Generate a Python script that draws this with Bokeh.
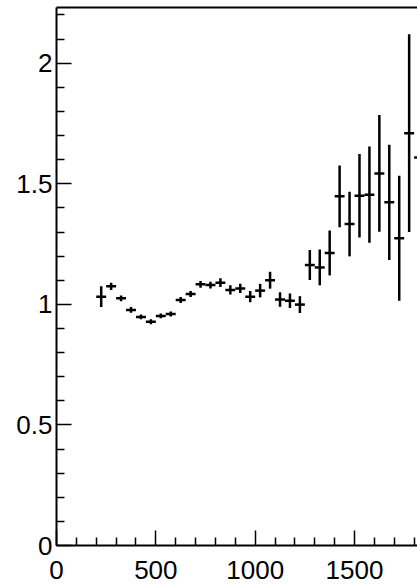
from bokeh.plotting import figure
from bokeh.models import FixedTicker, LinearAxis, CustomJSTickFormatter, Range1d
from bokeh.embed import file_html
from bokeh.resources import INLINE

# bin centres (x), values and errors
x_centers = [225, 275, 325, 375, 425, 475, 525, 575, 625, 675, 725, 775, 825,
             875, 925, 975, 1025, 1075, 1125, 1175, 1225, 1275, 1325, 1375,
             1425, 1475, 1525, 1575, 1625, 1675, 1725, 1775, 1825]
y_values = [1.032, 1.075, 1.025, 0.977, 0.948, 0.928, 0.952, 0.960, 1.018,
            1.043, 1.083, 1.080, 1.090, 1.060, 1.066, 1.032, 1.057, 1.100,
            1.020, 1.015, 0.999, 1.163, 1.153, 1.213, 1.448, 1.333, 1.450,
            1.455, 1.543, 1.423, 1.274, 1.710, 1.609]
y_errors = [0.043, 0.015, 0.012, 0.012, 0.010, 0.010, 0.010, 0.010, 0.012,
            0.012, 0.014, 0.014, 0.018, 0.019, 0.019, 0.023, 0.028, 0.035,
            0.030, 0.030, 0.035, 0.062, 0.074, 0.093, 0.128, 0.134, 0.173,
            0.200, 0.242, 0.239, 0.259, 0.410, 0.400]
bin_half_width = 25

x_major = [0, 500, 1000, 1500]
x_minor = [100, 200, 300, 400, 600, 700, 800, 900, 1100, 1200, 1300, 1400,
           1600, 1700, 1800]
y_major = [0, 0.5, 1, 1.5, 2]
y_minor = [0.1, 0.2, 0.3, 0.4, 0.6, 0.7, 0.8, 0.9, 1.1, 1.2, 1.3, 1.4,
           1.6, 1.7, 1.8, 1.9, 2.1, 2.2]

FONT = "Liberation Sans"

p = figure(width=417, height=587, output_backend="svg", toolbar_location=None,
           x_range=Range1d(0, 1817), y_range=Range1d(0, 2.231),
           min_border_left=56, min_border_right=0, min_border_top=7,
           min_border_bottom=42)
p.outline_line_color = None
p.grid.visible = False
p.background_fill_color = "white"

# error bars
xl = [x - bin_half_width for x in x_centers]
xr = [x + bin_half_width for x in x_centers]
ylo = [y - e for y, e in zip(y_values, y_errors)]
yhi = [y + e for y, e in zip(y_values, y_errors)]
p.segment(x0=xl, y0=y_values, x1=xr, y1=y_values, line_color="black", line_width=2.5)
p.segment(x0=x_centers, y0=ylo, x1=x_centers, y1=yhi, line_color="black", line_width=2.5)

for ax in (p.xaxis[0], p.yaxis[0]):
    ax.axis_line_width = 2
    ax.axis_line_color = "black"
    ax.major_tick_line_width = 1.5
    ax.minor_tick_line_width = 1.5
    ax.major_tick_out = 0
    ax.minor_tick_out = 0
    ax.major_label_text_font = FONT
    ax.major_label_text_font_size = "26px"
    ax.major_label_text_color = "black"

p.xaxis[0].ticker = FixedTicker(ticks=x_major, minor_ticks=x_minor)
p.xaxis[0].major_tick_in = 15
p.xaxis[0].minor_tick_in = 8
p.xaxis[0].major_label_standoff = 15
p.xaxis[0].major_label_text_line_height = 0.3

p.yaxis[0].ticker = FixedTicker(ticks=y_major, minor_ticks=y_minor)
p.yaxis[0].major_tick_in = 15
p.yaxis[0].minor_tick_in = 8
p.yaxis[0].major_label_standoff = 4
p.yaxis[0].formatter = CustomJSTickFormatter(code="return String(Math.round(tick*10)/10);")

# top frame line
top = LinearAxis(ticker=FixedTicker(ticks=[]), axis_line_width=2,
                 axis_line_color="black", major_tick_in=0, major_tick_out=0,
                 minor_tick_in=0, minor_tick_out=0,
                 major_label_text_font_size="0px")
p.add_layout(top, "above")

open("out.html", "w").write(file_html(p, INLINE))
